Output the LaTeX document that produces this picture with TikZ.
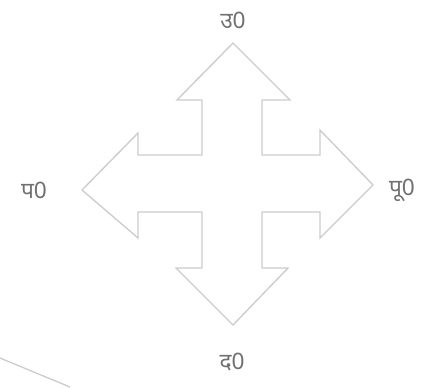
\documentclass[tikz,border=0pt]{standalone}
\usepackage{fontspec}
\newfontfamily\devfont[Script=Devanagari]{Noto Sans}
\definecolor{edgegray}{HTML}{CCCCCC}
\definecolor{textgray}{HTML}{707070}
\begin{document}
\begin{tikzpicture}[x=0.75pt,y=-0.75pt,
  arrowshape/.style={draw=edgegray,fill=white,line width=1pt,line join=miter},
  dirlabel/.style={text=textgray,font=\devfont\fontsize{17}{19}\selectfont,inner sep=1pt}]
\useasboundingbox (0,0) rectangle (427,387);
\draw[arrowshape]
  (233,43) -- (290,100) -- (262,100) -- (262,155) -- (320,155) -- (320,130)
  -- (373,185) -- (320,238) -- (320,212) -- (262,212) -- (262,268) -- (288,268)
  -- (233,325) -- (176,268) -- (202,268) -- (202,212) -- (138,212) -- (138,238)
  -- (82,190) -- (138,133) -- (138,155) -- (202,155) -- (202,100) -- (177,100) -- cycle;
\node[dirlabel] (north) at (233,20) {उ0};
\node[dirlabel] (west) at (34,190) {प0};
\node[dirlabel] (east) at (402,190) {पू0};
\node[dirlabel] (south) at (232,362) {द0};
\draw[edgegray,line width=1pt] (0,358) -- (70,387);
\end{tikzpicture}
\end{document}
